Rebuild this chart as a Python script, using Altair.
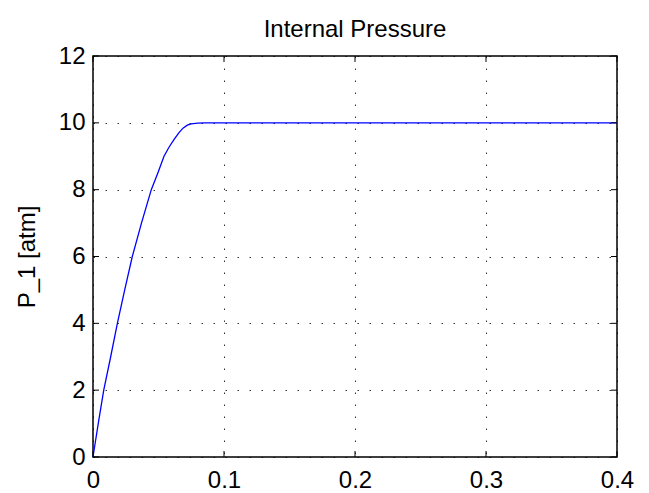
import altair as alt
import pandas as pd

# Curve
t_vals = [0, 0.004, 0.0082, 0.0135, 0.0186, 0.0242, 0.030, 0.037, 0.0445,
          0.0495, 0.0542, 0.058, 0.0618, 0.0655, 0.0687, 0.072, 0.075, 0.080,
          0.085, 0.1, 0.2, 0.3, 0.4]
p_vals = [0, 1.0, 2.0, 3.0, 4.0, 5.0, 6.0, 7.0, 8.0,
          8.5, 9.0, 9.27, 9.5, 9.7, 9.84, 9.93, 9.97, 9.99,
          10.0, 10.0, 10.0, 10.0, 10.0]

x_ticks = [0, 0.1, 0.2, 0.3, 0.4]
y_ticks = [0, 2, 4, 6, 8, 10, 12]

W, H = 524, 401
FONT = "Liberation Sans"
TICK = 6

df = pd.DataFrame({"t": t_vals, "p": p_vals})
xt = pd.DataFrame({"t": x_ticks})
yt = pd.DataFrame({"p": y_ticks})

xs = alt.Scale(domain=[0, 0.4], nice=False, zero=False)
ys = alt.Scale(domain=[0, 12], nice=False, zero=False)

x_axis = alt.Axis(
    values=x_ticks, format=".1~f", title=None, grid=True,
    gridColor="black", gridDash=[1.5, 10.5], gridWidth=1, gridOpacity=0.8,
    ticks=False, domain=False, labelFont=FONT, labelFontSize=24,
    labelColor="black", labelPadding=11, labelFlush=False)
y_axis = alt.Axis(
    values=y_ticks, title="P_1 [atm]", grid=True,
    gridColor="black", gridDash=[1.5, 10.5], gridWidth=1, gridOpacity=0.8,
    ticks=False, domain=False, labelFont=FONT, labelFontSize=24,
    labelColor="black", labelPadding=8, labelFlush=False,
    titleFont=FONT, titleFontSize=24, titleFontWeight="normal",
    titleColor="black", titlePadding=19)

line = alt.Chart(df).mark_line(color="#0000ff", strokeWidth=1.3).encode(
    x=alt.X("t:Q", scale=xs, axis=x_axis),
    y=alt.Y("p:Q", scale=ys, axis=y_axis),
)

xb = alt.Chart(xt).mark_rule(color="black", strokeWidth=1).encode(
    x=alt.X("t:Q", scale=xs, axis=x_axis), y=alt.value(H), y2=alt.value(H - TICK))
xtop = alt.Chart(xt).mark_rule(color="black", strokeWidth=1).encode(
    x=alt.X("t:Q", scale=xs, axis=x_axis), y=alt.value(0), y2=alt.value(TICK))
yl = alt.Chart(yt).mark_rule(color="black", strokeWidth=1).encode(
    y=alt.Y("p:Q", scale=ys, axis=y_axis), x=alt.value(0), x2=alt.value(TICK))
yr = alt.Chart(yt).mark_rule(color="black", strokeWidth=1).encode(
    y=alt.Y("p:Q", scale=ys, axis=y_axis), x=alt.value(W), x2=alt.value(W - TICK))

chart = alt.layer(line, xb, xtop, yl, yr).properties(
    width=W, height=H,
    title=alt.TitleParams("Internal Pressure", font=FONT, fontSize=24,
                          fontWeight="normal", color="black", offset=2,
                          frame="group"),
    autosize=alt.AutoSizeParams(type="none"),
    padding={"left": 85, "top": 48, "right": 24, "bottom": 36},
).configure(background="white").configure_view(stroke="black", strokeWidth=1.5)

chart.save("out.html", embed_options={"renderer": "svg", "actions": False})
